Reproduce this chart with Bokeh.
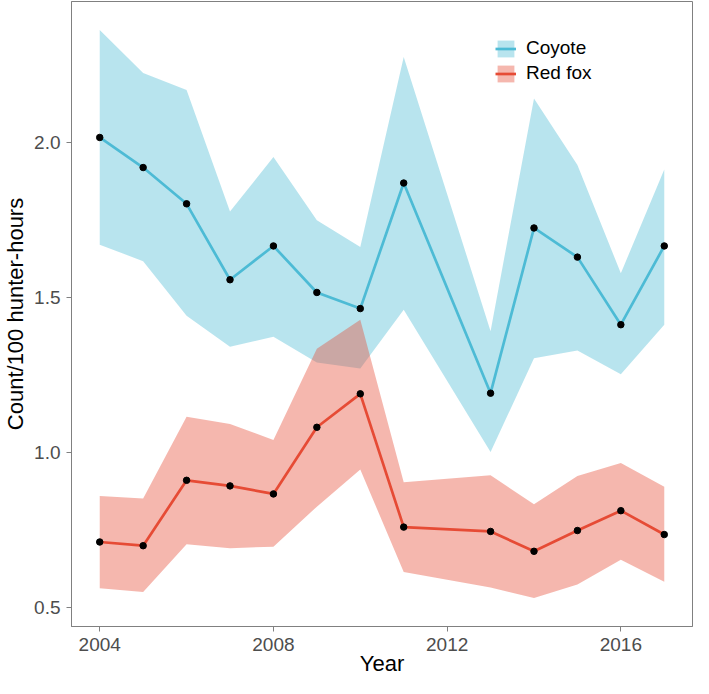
from bokeh.plotting import figure
from bokeh.models import Range1d, Legend, LegendItem, FixedTicker, PrintfTickFormatter
from bokeh.embed import file_html
from bokeh.resources import INLINE

years = [2004, 2005, 2006, 2007, 2008, 2009, 2010, 2011, 2013, 2014, 2015, 2016, 2017]
coyote = [2.015, 1.918, 1.801, 1.556, 1.665, 1.515, 1.463, 1.868, 1.190, 1.723, 1.629, 1.411, 1.665]
coyote_hi = [2.362, 2.223, 2.168, 1.776, 1.952, 1.748, 1.662, 2.275, 1.390, 2.141, 1.926, 1.577, 1.912]
coyote_lo = [1.669, 1.616, 1.440, 1.340, 1.372, 1.289, 1.270, 1.459, 1.000, 1.303, 1.328, 1.251, 1.411]
fox = [0.710, 0.698, 0.909, 0.891, 0.865, 1.080, 1.188, 0.758, 0.744, 0.680, 0.747, 0.811, 0.734]
fox_hi = [0.858, 0.850, 1.114, 1.091, 1.039, 1.333, 1.427, 0.903, 0.925, 0.832, 0.923, 0.965, 0.888]
fox_lo = [0.561, 0.549, 0.703, 0.690, 0.695, 0.824, 0.944, 0.613, 0.563, 0.529, 0.573, 0.653, 0.582]
x_ticks = [2004, 2008, 2012, 2016]
y_ticks = [0.5, 1.0, 1.5, 2.0]
series_names = ["Coyote", "Red fox"]

BLUE = "#4DBBD5"
RED = "#E64B35"
FONT = "Liberation Sans"

xmin, xmax = min(years), max(years)
ymin = min(coyote_lo + fox_lo)
ymax = max(coyote_hi + fox_hi)
xpad = (xmax - xmin) * 0.05
ypad = (ymax - ymin) * 0.05

p = figure(width=693, height=678, output_backend="svg", toolbar_location=None,
           x_range=Range1d(xmin - xpad, xmax + xpad),
           y_range=Range1d(ymin - ypad, ymax + ypad),
           min_border_left=66, min_border_right=1, min_border_top=1, min_border_bottom=40)

p.xgrid.visible = False
p.ygrid.visible = False
p.outline_line_color = "#808080"
p.outline_line_width = 1
p.background_fill_color = "white"

band_c = p.varea(x=years, y1=coyote_lo, y2=coyote_hi, fill_color=BLUE, fill_alpha=0.4)
band_f = p.varea(x=years, y1=fox_lo, y2=fox_hi, fill_color=RED, fill_alpha=0.4)
line_c = p.line(years, coyote, line_color=BLUE, line_width=2.7)
line_f = p.line(years, fox, line_color=RED, line_width=2.7)
p.scatter(years, coyote, size=6.5, fill_color="black", line_color="black")
p.scatter(years, fox, size=6.5, fill_color="black", line_color="black")

for ax in (p.xaxis[0], p.yaxis[0]):
    ax.axis_line_color = "#808080"
    ax.major_tick_line_color = "#808080"
    ax.major_tick_out = 5
    ax.major_tick_in = 0
    ax.minor_tick_line_color = None
    ax.major_label_text_font = FONT
    ax.major_label_text_font_size = "19px"
    ax.major_label_text_color = "#4D4D4D"
    ax.axis_label_text_font = FONT
    ax.axis_label_text_font_size = "22px"
    ax.axis_label_text_font_style = "normal"
    ax.axis_label_text_color = "black"

p.xaxis[0].ticker = FixedTicker(ticks=x_ticks)
p.xaxis[0].formatter = PrintfTickFormatter(format="%d")
p.xaxis[0].axis_label = "Year"
p.xaxis[0].major_label_standoff = 6
p.xaxis[0].axis_label_standoff = -3

p.yaxis[0].ticker = FixedTicker(ticks=y_ticks)
p.yaxis[0].formatter = PrintfTickFormatter(format="%.1f")
p.yaxis[0].axis_label = "Count/100 hunter-hours"
p.yaxis[0].major_label_standoff = 6
p.yaxis[0].axis_label_standoff = 3

legend = Legend(items=[LegendItem(label=series_names[0], renderers=[band_c, line_c]),
                       LegendItem(label=series_names[1], renderers=[band_f, line_f])],
                location=(424, 542), orientation="vertical",
                padding=0, margin=0, spacing=3, label_standoff=10,
                glyph_width=21, glyph_height=21, label_height=21,
                label_text_font=FONT, label_text_font_size="19px", label_text_color="black",
                background_fill_alpha=0, border_line_alpha=0)
p.add_layout(legend, "center")

open("out.html", "w").write(file_html(p, INLINE))
